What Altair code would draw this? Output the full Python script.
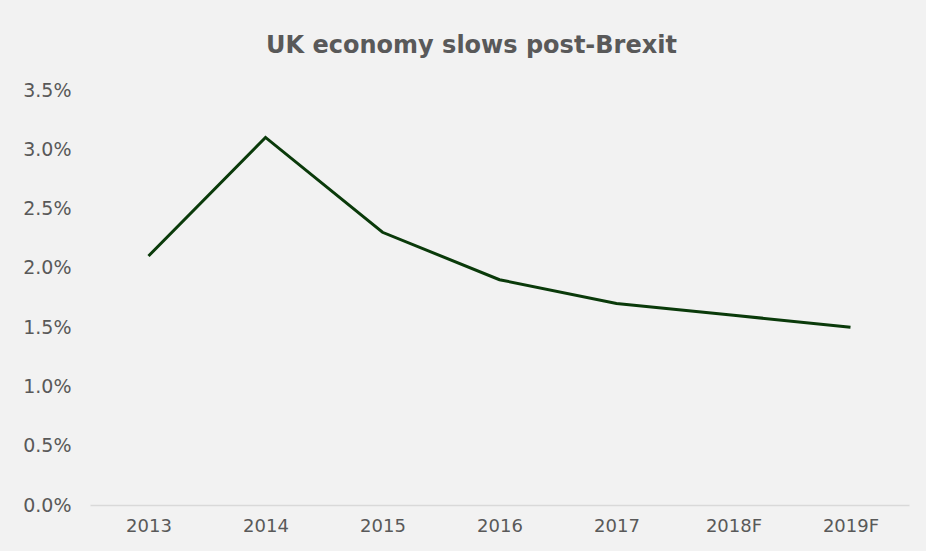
import altair as alt
import pandas as pd

years = ["2013", "2014", "2015", "2016", "2017", "2018F", "2019F"]
growth = [0.021, 0.031, 0.023, 0.019, 0.017, 0.016, 0.015]

df = pd.DataFrame({"year": years, "growth": growth})

FONT = "DejaVu Sans"
GREY = "#595959"

chart = alt.Chart(df).mark_line(color="#0a3a0a", strokeWidth=3).encode(
    x=alt.X("year:N", sort=years, title=None,
            scale=alt.Scale(type="point", padding=0.5),
            axis=alt.Axis(labelAngle=0, ticks=False, domainColor="#d9d9d9",
                          domainWidth=1.5, grid=False, labelPadding=12,
                          labelFontSize=18, labelColor=GREY, labelFont=FONT)),
    y=alt.Y("growth:Q", title=None,
            scale=alt.Scale(domain=[0, 0.035]),
            axis=alt.Axis(format=".1%", values=[0, 0.005, 0.01, 0.015, 0.02, 0.025, 0.03, 0.035],
                          domain=False, ticks=False, grid=False, labelPadding=19,
                          labelFontSize=19, labelColor=GREY, labelFont=FONT)),
).properties(
    width=819, height=415,
    autosize=alt.AutoSizeParams(type="none"),
    padding={"left": 90, "top": 90, "right": 17, "bottom": 46},
    background="#f2f2f2",
    title=alt.TitleParams("UK economy slows post-Brexit", anchor="middle", dx=-28,
                          offset=23, fontSize=24, fontWeight="bold", color=GREY, font=FONT),
).configure_view(stroke=None)

chart.save("out.html", embed_options={"renderer": "svg", "actions": False})
